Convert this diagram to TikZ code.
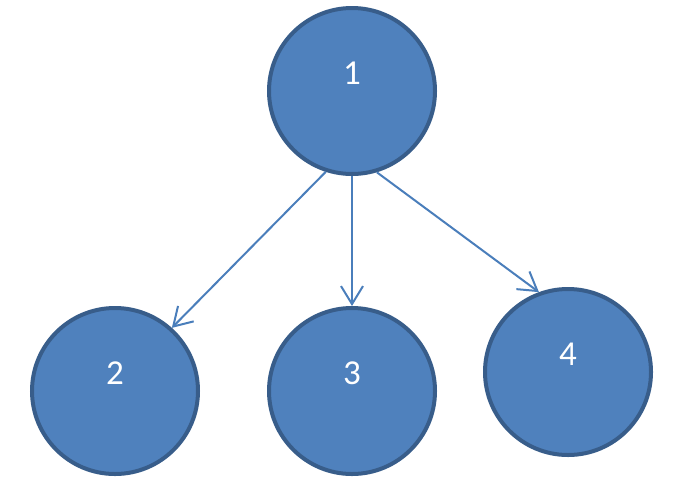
\documentclass[tikz,border=0pt]{standalone}
\usepackage{fontspec}
\setmainfont{Carlito}
\usetikzlibrary{arrows.meta}
\usepackage{xcolor}
\definecolor{nodeblue}{HTML}{4F81BD}
\definecolor{nodeborder}{HTML}{385D8A}
\definecolor{edgeblue}{HTML}{4A7EBB}

\begin{document}
\begin{tikzpicture}[x=1pt, y=-1pt]
        % Definitions
        \def\nodeD{166pt}
        \def\digitH{22pt}
        \def\digitD{36pt}

        % Styles
        \tikzstyle{vertex} = [circle, minimum size=\nodeD, inner sep=0pt, fill=nodeblue, draw=nodeborder, line width=4pt, text=white, font=\fontsize{35}{42}\selectfont, text height=\digitH, text depth=\digitD]
        \tikzstyle{edge} = [draw, -{Straight Barb[length=18pt, width=22pt]}, line width=2pt, edgeblue]

        \useasboundingbox[fill=white] (0,0) rectangle (676,496);

        % Nodes
        \node[vertex] (n1) at (352,91) {1};
        \node[vertex] (n2) at (115,391) {2};
        \node[vertex] (n3) at (352,391) {3};
        \node[vertex] (n4) at (568,372) {4};

        % Edges
        \draw[edge] (n1.-108) -- (n2.48);
        \draw[edge] (n1.south) -- (n3.north);
        \draw[edge] (n1.-73) -- (n4.110);

    \end{tikzpicture}
\end{document}
